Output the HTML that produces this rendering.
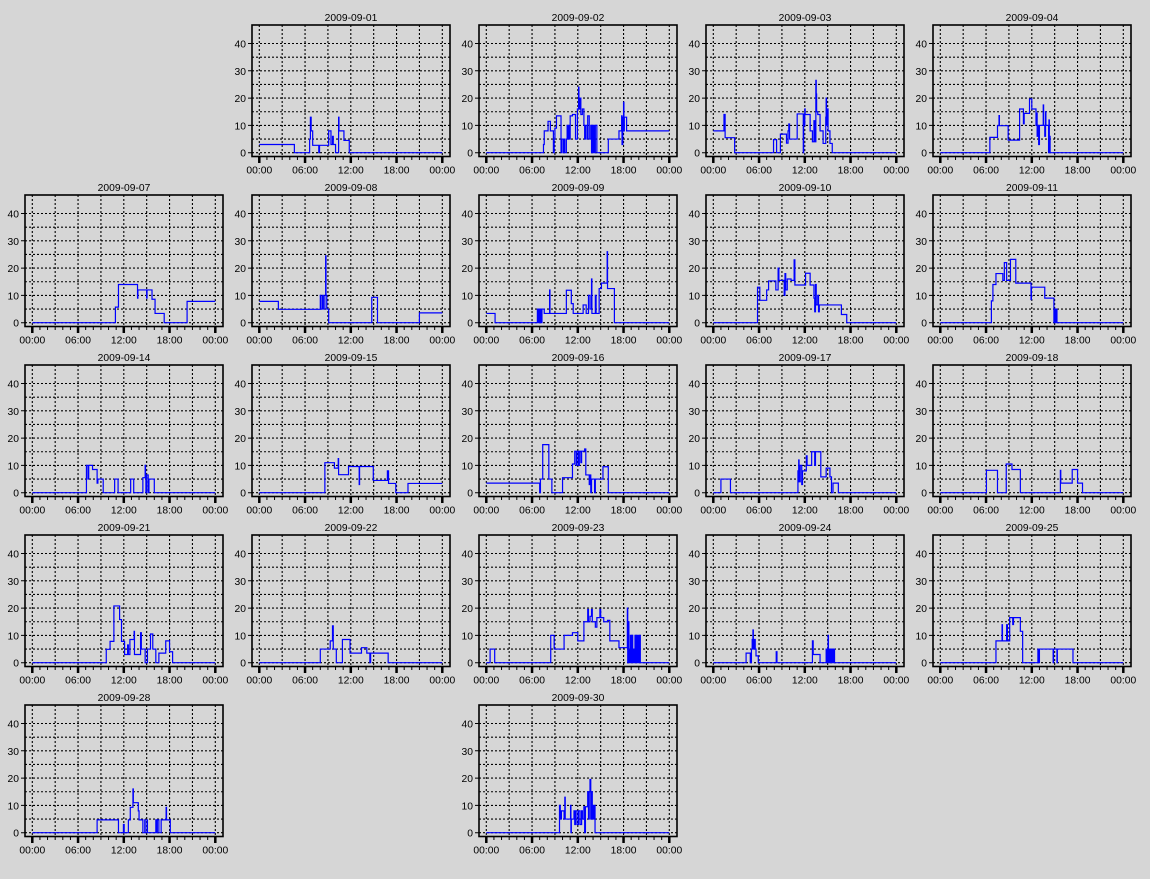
<!DOCTYPE html>
<html><head><meta charset="utf-8"><style>
html,body{margin:0;padding:0;background:#d6d6d6;}
svg{display:block;}
text{font-family:"Liberation Sans",Arial,sans-serif;font-size:10.3px;fill:#000;}
.m{text-anchor:middle;}
.e{text-anchor:end;}
.d{fill:none;stroke:#0000ff;stroke-width:1.2;}
</style></head><body>
<svg width="1150" height="879" viewBox="0 0 1150 879" xmlns="http://www.w3.org/2000/svg">
<rect width="1150" height="879" fill="#d6d6d6"/>
<defs>
<g id="fr">
<path d="M0 127.7H198M0 114.05H198M0 100.4H198M0 86.75H198M0 73.1H198M0 59.45H198M0 45.8H198M0 32.15H198M0 18.5H198M7.3 0V131.5M30.18 0V131.5M53.05 0V131.5M75.93 0V131.5M98.8 0V131.5M121.68 0V131.5M144.55 0V131.5M167.43 0V131.5M190.3 0V131.5" stroke="#000" stroke-width="1.1" stroke-dasharray="2,2" fill="none"/>
<rect x="0" y="0" width="198" height="131.5" fill="none" stroke="#000" stroke-width="1.6"/>
<path d="M-4 127.7H0M-4 100.4H0M-4 73.1H0M-4 45.8H0M-4 18.5H0M7.3 131.5V135M14.93 131.5V135M22.55 131.5V135M30.18 131.5V135M37.8 131.5V135M45.43 131.5V135M53.05 131.5V135M60.68 131.5V135M68.3 131.5V135M75.93 131.5V135M83.55 131.5V135M91.18 131.5V135M98.8 131.5V135M106.43 131.5V135M114.05 131.5V135M121.68 131.5V135M129.3 131.5V135M136.93 131.5V135M144.55 131.5V135M152.18 131.5V135M159.8 131.5V135M167.43 131.5V135M175.05 131.5V135M182.68 131.5V135M190.3 131.5V135" stroke="#000" stroke-width="1" fill="none"/>
<path d="M7.3 131.5V138M53.05 131.5V138M98.8 131.5V138M144.55 131.5V138M190.3 131.5V138" stroke="#000" stroke-width="2.5" fill="none"/>
</g>
</defs>

<!-- Row 0 -->
<g transform="translate(252,25)"><use href="#fr"/><text x="99" y="-4" class="m">2009-09-01</text><text x="-6" y="131.7" class="e">0</text><text x="-6" y="104.4" class="e">10</text><text x="-6" y="77.1" class="e">20</text><text x="-6" y="49.8" class="e">30</text><text x="-6" y="22.5" class="e">40</text><text x="7.3" y="148.3" class="m">00:00</text><text x="53.05" y="148.3" class="m">06:00</text><text x="98.8" y="148.3" class="m">12:00</text><text x="144.55" y="148.3" class="m">18:00</text><text x="190.3" y="148.3" class="m">00:00</text>
<path class="d" vector-effect="non-scaling-stroke" transform="translate(7.3,127.7) scale(7.625,-2.73)" d="M0 3H4.6V0H6.6V5H6.7V13H6.8V8H7.0V2.7H7.8V0H7.9V2.7H9.1V8H9.4V3H9.6V6H9.7V3H10.0V0H10.4V13H10.45V8H11.1V4.5H11.8V0H24"/></g>

<g transform="translate(479,25)"><use href="#fr"/><text x="99" y="-4" class="m">2009-09-02</text><text x="-6" y="131.7" class="e">0</text><text x="-6" y="104.4" class="e">10</text><text x="-6" y="77.1" class="e">20</text><text x="-6" y="49.8" class="e">30</text><text x="-6" y="22.5" class="e">40</text><text x="7.3" y="148.3" class="m">00:00</text><text x="53.05" y="148.3" class="m">06:00</text><text x="98.8" y="148.3" class="m">12:00</text><text x="144.55" y="148.3" class="m">18:00</text><text x="190.3" y="148.3" class="m">00:00</text>
<path class="d" vector-effect="non-scaling-stroke" transform="translate(7.3,127.7) scale(7.625,-2.73)" d="M0 0H7.5V3H7.6V8H8.1V11.5H8.4V8H8.8V0H8.9V5H9.0V9H9.2V13.5H9.8V0H9.9V5H10.1V0H10.2V5H10.3V0H10.5V5H10.6V10H10.7V5H10.85V10H10.95V5H11.0V13.5H11.3V14H11.7V5H11.95V16H12.1V24H12.15V16H12.3V20H12.4V14H12.6V16H12.8V10H12.9V5H13.0V10H13.2V5H13.3V13.5H13.5V5H13.7V10H13.8V0H13.9V10H14.0V0H14.1V10H14.2V0H14.3V10H14.5V0H16.0V5H17.4V8H17.75V13.5H17.8V3H17.9V13H18.0V18.5H18.05V8H18.1V13H18.4V8H24"/></g>

<g transform="translate(706,25)"><use href="#fr"/><text x="99" y="-4" class="m">2009-09-03</text><text x="-6" y="131.7" class="e">0</text><text x="-6" y="104.4" class="e">10</text><text x="-6" y="77.1" class="e">20</text><text x="-6" y="49.8" class="e">30</text><text x="-6" y="22.5" class="e">40</text><text x="7.3" y="148.3" class="m">00:00</text><text x="53.05" y="148.3" class="m">06:00</text><text x="98.8" y="148.3" class="m">12:00</text><text x="144.55" y="148.3" class="m">18:00</text><text x="190.3" y="148.3" class="m">00:00</text>
<path class="d" vector-effect="non-scaling-stroke" transform="translate(7.3,127.7) scale(7.625,-2.73)" d="M0 8H1.4V14H1.55V5.5H2.8V0H7.9V4.8H8.3V0H8.8V6.8H9.6V3.5H9.8V8H9.9V10.5H10.0V5H11.0V14.2H11.8V0H11.85V14H11.9V10H12.0V16H12.05V14H12.7V8H13.0V4H13.2V11.7H13.3V4H13.45V26.5H13.5V21.5H13.55V15H13.7V14H14.0V8H14.4V3.4H14.75V13H14.8V20H14.85V10H14.95V16H15.05V8H15.3V3.4H15.6V0H24"/></g>

<g transform="translate(933,25)"><use href="#fr"/><text x="99" y="-4" class="m">2009-09-04</text><text x="-6" y="131.7" class="e">0</text><text x="-6" y="104.4" class="e">10</text><text x="-6" y="77.1" class="e">20</text><text x="-6" y="49.8" class="e">30</text><text x="-6" y="22.5" class="e">40</text><text x="7.3" y="148.3" class="m">00:00</text><text x="53.05" y="148.3" class="m">06:00</text><text x="98.8" y="148.3" class="m">12:00</text><text x="144.55" y="148.3" class="m">18:00</text><text x="190.3" y="148.3" class="m">00:00</text>
<path class="d" vector-effect="non-scaling-stroke" transform="translate(7.3,127.7) scale(7.625,-2.73)" d="M0 0H6.5V5.6H7.5V9.9H7.7V13.6H7.75V9.9H8.9V4.6H10.4V16H10.9V10.6H11.0V14.4H11.7V19.7H12.0V16H12.55V10H12.65V14.5H12.7V6H12.8V10H12.9V3H13.0V10H13.5V17.5H13.55V10H13.7V6H13.8V15H13.85V10H14.2V0H14.25V12H14.3V0H14.35V6H14.4V0H24"/></g>

<!-- Row 1 -->
<g transform="translate(25,195)"><use href="#fr"/><text x="99" y="-4" class="m">2009-09-07</text><text x="-6" y="131.7" class="e">0</text><text x="-6" y="104.4" class="e">10</text><text x="-6" y="77.1" class="e">20</text><text x="-6" y="49.8" class="e">30</text><text x="-6" y="22.5" class="e">40</text><text x="7.3" y="148.3" class="m">00:00</text><text x="53.05" y="148.3" class="m">06:00</text><text x="98.8" y="148.3" class="m">12:00</text><text x="144.55" y="148.3" class="m">18:00</text><text x="190.3" y="148.3" class="m">00:00</text>
<path class="d" vector-effect="non-scaling-stroke" transform="translate(7.3,127.7) scale(7.625,-2.73)" d="M0 0H10.9V5.7H11.3V14H13.8V9H13.85V12H15.0V9H15.05V12H15.7V8.6H16.1V3.4H17.3V0H20.3V7.8H24"/></g>

<g transform="translate(252,195)"><use href="#fr"/><text x="99" y="-4" class="m">2009-09-08</text><text x="-6" y="131.7" class="e">0</text><text x="-6" y="104.4" class="e">10</text><text x="-6" y="77.1" class="e">20</text><text x="-6" y="49.8" class="e">30</text><text x="-6" y="22.5" class="e">40</text><text x="7.3" y="148.3" class="m">00:00</text><text x="53.05" y="148.3" class="m">06:00</text><text x="98.8" y="148.3" class="m">12:00</text><text x="144.55" y="148.3" class="m">18:00</text><text x="190.3" y="148.3" class="m">00:00</text>
<path class="d" vector-effect="non-scaling-stroke" transform="translate(7.3,127.7) scale(7.625,-2.73)" d="M0 7.8H2.5V4.9H8.0V10H8.1V5H8.3V10H8.4V5H8.6V10H8.7V24.5H8.75V10H8.85V5H9.1V0H14.75V9.3H15.5V0H21.0V3.6H24"/></g>

<g transform="translate(479,195)"><use href="#fr"/><text x="99" y="-4" class="m">2009-09-09</text><text x="-6" y="131.7" class="e">0</text><text x="-6" y="104.4" class="e">10</text><text x="-6" y="77.1" class="e">20</text><text x="-6" y="49.8" class="e">30</text><text x="-6" y="22.5" class="e">40</text><text x="7.3" y="148.3" class="m">00:00</text><text x="53.05" y="148.3" class="m">06:00</text><text x="98.8" y="148.3" class="m">12:00</text><text x="144.55" y="148.3" class="m">18:00</text><text x="190.3" y="148.3" class="m">00:00</text>
<path class="d" vector-effect="non-scaling-stroke" transform="translate(7.3,127.7) scale(7.625,-2.73)" d="M0 3.4H1.15V0H6.7V5H6.8V0H6.9V5H7.0V0H7.1V5H7.2V0H7.3V5H7.6V3.4H8.3V12H8.35V3.4H10.5V11.9H11.15V7H11.4V3.4H12.7V6.5H13.1V3.4H13.4V10H13.6V5H13.8V16H13.85V3.4H14.3V10H14.4V3.4H14.8V12.5H15.1V14.5H15.85V26H15.9V12.5H16.8V0H24"/></g>

<g transform="translate(706,195)"><use href="#fr"/><text x="99" y="-4" class="m">2009-09-10</text><text x="-6" y="131.7" class="e">0</text><text x="-6" y="104.4" class="e">10</text><text x="-6" y="77.1" class="e">20</text><text x="-6" y="49.8" class="e">30</text><text x="-6" y="22.5" class="e">40</text><text x="7.3" y="148.3" class="m">00:00</text><text x="53.05" y="148.3" class="m">06:00</text><text x="98.8" y="148.3" class="m">12:00</text><text x="144.55" y="148.3" class="m">18:00</text><text x="190.3" y="148.3" class="m">00:00</text>
<path class="d" vector-effect="non-scaling-stroke" transform="translate(7.3,127.7) scale(7.625,-2.73)" d="M0 0H5.8V13H6.1V8.2H7.0V12H7.25V15.3H8.2V12H8.5V20H8.6V15.5H9.3V10H9.4V18H9.5V12H9.7V16H10.2V15.5H10.6V23H10.7V13.8H12.1V18.1H12.7V13.8H13.2V9H13.3V4H13.4V14H13.5V6.5H13.7V10H13.8V4H13.9V6.5H16.8V3H17.5V0H24"/></g>

<g transform="translate(933,195)"><use href="#fr"/><text x="99" y="-4" class="m">2009-09-11</text><text x="-6" y="131.7" class="e">0</text><text x="-6" y="104.4" class="e">10</text><text x="-6" y="77.1" class="e">20</text><text x="-6" y="49.8" class="e">30</text><text x="-6" y="22.5" class="e">40</text><text x="7.3" y="148.3" class="m">00:00</text><text x="53.05" y="148.3" class="m">06:00</text><text x="98.8" y="148.3" class="m">12:00</text><text x="144.55" y="148.3" class="m">18:00</text><text x="190.3" y="148.3" class="m">00:00</text>
<path class="d" vector-effect="non-scaling-stroke" transform="translate(7.3,127.7) scale(7.625,-2.73)" d="M0 0H6.7V8H6.9V14H7.3V18H8.2V15.5H8.4V22H8.7V15.5H9.2V23.2H9.9V14.5H11.9V8.5H11.95V13H13.7V9H14.9V0H15.0V5H15.1V0H15.2V5H15.3V0H24"/></g>

<!-- Row 2 -->
<g transform="translate(25,365)"><use href="#fr"/><text x="99" y="-4" class="m">2009-09-14</text><text x="-6" y="131.7" class="e">0</text><text x="-6" y="104.4" class="e">10</text><text x="-6" y="77.1" class="e">20</text><text x="-6" y="49.8" class="e">30</text><text x="-6" y="22.5" class="e">40</text><text x="7.3" y="148.3" class="m">00:00</text><text x="53.05" y="148.3" class="m">06:00</text><text x="98.8" y="148.3" class="m">12:00</text><text x="144.55" y="148.3" class="m">18:00</text><text x="190.3" y="148.3" class="m">00:00</text>
<path class="d" vector-effect="non-scaling-stroke" transform="translate(7.3,127.7) scale(7.625,-2.73)" d="M0 0H7.1V10H7.3V5H7.4V10H7.9V8.5H8.5V3.5H8.6V5H9.3V0H10.8V5H11.25V0H12.9V5H13.3V0H14.5V5.5H14.8V10H14.85V6.5H14.9V0H15.0V6.5H15.2V0H15.3V5H16.0V0H24"/></g>

<g transform="translate(252,365)"><use href="#fr"/><text x="99" y="-4" class="m">2009-09-15</text><text x="-6" y="131.7" class="e">0</text><text x="-6" y="104.4" class="e">10</text><text x="-6" y="77.1" class="e">20</text><text x="-6" y="49.8" class="e">30</text><text x="-6" y="22.5" class="e">40</text><text x="7.3" y="148.3" class="m">00:00</text><text x="53.05" y="148.3" class="m">06:00</text><text x="98.8" y="148.3" class="m">12:00</text><text x="144.55" y="148.3" class="m">18:00</text><text x="190.3" y="148.3" class="m">00:00</text>
<path class="d" vector-effect="non-scaling-stroke" transform="translate(7.3,127.7) scale(7.625,-2.73)" d="M0 0H8.6V11H9.85V9H10.35V12.5H10.4V6.6H11.7V9.6H13.1V3H13.15V9.6H14.95V4.5H16.8V8H16.95V3.4H17.9V0H19.5V3.4H24"/></g>

<g transform="translate(479,365)"><use href="#fr"/><text x="99" y="-4" class="m">2009-09-16</text><text x="-6" y="131.7" class="e">0</text><text x="-6" y="104.4" class="e">10</text><text x="-6" y="77.1" class="e">20</text><text x="-6" y="49.8" class="e">30</text><text x="-6" y="22.5" class="e">40</text><text x="7.3" y="148.3" class="m">00:00</text><text x="53.05" y="148.3" class="m">06:00</text><text x="98.8" y="148.3" class="m">12:00</text><text x="144.55" y="148.3" class="m">18:00</text><text x="190.3" y="148.3" class="m">00:00</text>
<path class="d" vector-effect="non-scaling-stroke" transform="translate(7.3,127.7) scale(7.625,-2.73)" d="M0 3.5H7.0V0H7.1V5H7.4V17.6H8.2V5H8.6V0H10.0V5.5H11.3V10.5H11.6V15.2H11.8V10H11.9V15.2H12.1V10H12.2V15.2H12.4V11H12.5V15.2H12.9V16H13.05V6.5H13.5V3H13.6V6.5H13.7V0H13.8V5H14.2V0H14.3V5H15.3V9.5H16.0V0H24"/></g>

<g transform="translate(706,365)"><use href="#fr"/><text x="99" y="-4" class="m">2009-09-17</text><text x="-6" y="131.7" class="e">0</text><text x="-6" y="104.4" class="e">10</text><text x="-6" y="77.1" class="e">20</text><text x="-6" y="49.8" class="e">30</text><text x="-6" y="22.5" class="e">40</text><text x="7.3" y="148.3" class="m">00:00</text><text x="53.05" y="148.3" class="m">06:00</text><text x="98.8" y="148.3" class="m">12:00</text><text x="144.55" y="148.3" class="m">18:00</text><text x="190.3" y="148.3" class="m">00:00</text>
<path class="d" vector-effect="non-scaling-stroke" transform="translate(7.3,127.7) scale(7.625,-2.73)" d="M0 0H1.0V5H2.25V0H11.1V8H11.2V12H11.25V4H11.4V10H11.6V3H11.7V8H12.2V13.5H12.3V10H12.9V15H13.3V10H13.4V15H14.1V5.8H14.8V9H15.3V5.8H15.5V0H15.7V3.5H16.4V0H24"/></g>

<g transform="translate(933,365)"><use href="#fr"/><text x="99" y="-4" class="m">2009-09-18</text><text x="-6" y="131.7" class="e">0</text><text x="-6" y="104.4" class="e">10</text><text x="-6" y="77.1" class="e">20</text><text x="-6" y="49.8" class="e">30</text><text x="-6" y="22.5" class="e">40</text><text x="7.3" y="148.3" class="m">00:00</text><text x="53.05" y="148.3" class="m">06:00</text><text x="98.8" y="148.3" class="m">12:00</text><text x="144.55" y="148.3" class="m">18:00</text><text x="190.3" y="148.3" class="m">00:00</text>
<path class="d" vector-effect="non-scaling-stroke" transform="translate(7.3,127.7) scale(7.625,-2.73)" d="M0 0H6.05V8.2H7.5V0H8.65V10.5H9.4V8.5H10.5V0H15.75V8.2H15.8V3.5H17.3V8.5H18.0V3.5H18.65V0H24"/></g>

<!-- Row 3 -->
<g transform="translate(25,535)"><use href="#fr"/><text x="99" y="-4" class="m">2009-09-21</text><text x="-6" y="131.7" class="e">0</text><text x="-6" y="104.4" class="e">10</text><text x="-6" y="77.1" class="e">20</text><text x="-6" y="49.8" class="e">30</text><text x="-6" y="22.5" class="e">40</text><text x="7.3" y="148.3" class="m">00:00</text><text x="53.05" y="148.3" class="m">06:00</text><text x="98.8" y="148.3" class="m">12:00</text><text x="144.55" y="148.3" class="m">18:00</text><text x="190.3" y="148.3" class="m">00:00</text>
<path class="d" vector-effect="non-scaling-stroke" transform="translate(7.3,127.7) scale(7.625,-2.73)" d="M0 0H9.7V4.9H10.2V7.8H10.7V20.8H11.45V15.8H11.7V7.8H12.1V3H12.5V6.5H12.6V3H12.8V8.5H13.35V11.5H13.4V3H14.2V11H14.3V5H14.8V0H15.1V5H15.5V10.5H15.8V5H16.2V0H16.6V3.5H17.5V8H18.0V4H18.4V0H24"/></g>

<g transform="translate(252,535)"><use href="#fr"/><text x="99" y="-4" class="m">2009-09-22</text><text x="-6" y="131.7" class="e">0</text><text x="-6" y="104.4" class="e">10</text><text x="-6" y="77.1" class="e">20</text><text x="-6" y="49.8" class="e">30</text><text x="-6" y="22.5" class="e">40</text><text x="7.3" y="148.3" class="m">00:00</text><text x="53.05" y="148.3" class="m">06:00</text><text x="98.8" y="148.3" class="m">12:00</text><text x="144.55" y="148.3" class="m">18:00</text><text x="190.3" y="148.3" class="m">00:00</text>
<path class="d" vector-effect="non-scaling-stroke" transform="translate(7.3,127.7) scale(7.625,-2.73)" d="M0 0H8.0V5H9.3V8H9.6V13.5H9.7V5H10.1V0H10.9V8.5H11.9V3.5H13.4V5.5H14.1V3.5H14.5V0H14.6V3.5H16.9V0H24"/></g>

<g transform="translate(479,535)"><use href="#fr"/><text x="99" y="-4" class="m">2009-09-23</text><text x="-6" y="131.7" class="e">0</text><text x="-6" y="104.4" class="e">10</text><text x="-6" y="77.1" class="e">20</text><text x="-6" y="49.8" class="e">30</text><text x="-6" y="22.5" class="e">40</text><text x="7.3" y="148.3" class="m">00:00</text><text x="53.05" y="148.3" class="m">06:00</text><text x="98.8" y="148.3" class="m">12:00</text><text x="144.55" y="148.3" class="m">18:00</text><text x="190.3" y="148.3" class="m">00:00</text>
<path class="d" vector-effect="non-scaling-stroke" transform="translate(7.3,127.7) scale(7.625,-2.73)" d="M0 0H0.5V5H1.1V0H8.45V10H8.9V5H10.2V10H11.3V11H12.0V8H12.8V15H13.3V19.5H13.4V15H13.6V17H13.8V19.5H13.9V15H14.3V13H14.5V16.5H14.9V19.5H15.0V16.5H15.4V15H15.9V15.5H16.2V8H17.4V5.5H18.5V20H18.55V0H18.65V15H18.7V5H18.8V0H18.9V10H19.0V0H19.1V10H19.2V0H19.3V5H19.4V0H19.5V10H19.6V0H19.7V10H19.8V0H19.9V10H20.0V0H20.1V10H20.2V0H24"/></g>

<g transform="translate(706,535)"><use href="#fr"/><text x="99" y="-4" class="m">2009-09-24</text><text x="-6" y="131.7" class="e">0</text><text x="-6" y="104.4" class="e">10</text><text x="-6" y="77.1" class="e">20</text><text x="-6" y="49.8" class="e">30</text><text x="-6" y="22.5" class="e">40</text><text x="7.3" y="148.3" class="m">00:00</text><text x="53.05" y="148.3" class="m">06:00</text><text x="98.8" y="148.3" class="m">12:00</text><text x="144.55" y="148.3" class="m">18:00</text><text x="190.3" y="148.3" class="m">00:00</text>
<path class="d" vector-effect="non-scaling-stroke" transform="translate(7.3,127.7) scale(7.625,-2.73)" d="M0 0H4.3V3.5H4.85V0H5.0V5H5.1V8.5H5.2V12H5.25V5H5.35V8.5H5.5V5H5.6V2.5H5.9V0H8.25V4H8.35V0H13.0V8H13.1V3H14.0V0H14.8V5H14.9V0H15.0V5H15.05V10H15.1V0H15.2V5H15.3V0H15.4V5H15.5V0H15.6V5H15.7V0H15.8V5H15.9V0H24"/></g>

<g transform="translate(933,535)"><use href="#fr"/><text x="99" y="-4" class="m">2009-09-25</text><text x="-6" y="131.7" class="e">0</text><text x="-6" y="104.4" class="e">10</text><text x="-6" y="77.1" class="e">20</text><text x="-6" y="49.8" class="e">30</text><text x="-6" y="22.5" class="e">40</text><text x="7.3" y="148.3" class="m">00:00</text><text x="53.05" y="148.3" class="m">06:00</text><text x="98.8" y="148.3" class="m">12:00</text><text x="144.55" y="148.3" class="m">18:00</text><text x="190.3" y="148.3" class="m">00:00</text>
<path class="d" vector-effect="non-scaling-stroke" transform="translate(7.3,127.7) scale(7.625,-2.73)" d="M0 0H7.3V8H8.1V13.9H8.15V8H8.7V13.9H8.8V8H9.1V16.5H9.5V14H9.6V16.5H10.5V11.5H10.8V0H12.8V5H12.9V0H13.0V5H14.8V0H14.85V5H15.3V0H15.35V5H17.4V0H24"/></g>

<!-- Row 4 -->
<g transform="translate(25,705)"><use href="#fr"/><text x="99" y="-4" class="m">2009-09-28</text><text x="-6" y="131.7" class="e">0</text><text x="-6" y="104.4" class="e">10</text><text x="-6" y="77.1" class="e">20</text><text x="-6" y="49.8" class="e">30</text><text x="-6" y="22.5" class="e">40</text><text x="7.3" y="148.3" class="m">00:00</text><text x="53.05" y="148.3" class="m">06:00</text><text x="98.8" y="148.3" class="m">12:00</text><text x="144.55" y="148.3" class="m">18:00</text><text x="190.3" y="148.3" class="m">00:00</text>
<path class="d" vector-effect="non-scaling-stroke" transform="translate(7.3,127.7) scale(7.625,-2.73)" d="M0 0H8.5V4.7H11.3V0H11.95V3H12.05V0H12.6V4.7H12.85V9.3H13.2V16H13.25V11H13.9V8H14.0V4.7H14.5V0H14.75V4.7H14.8V0H15.05V4.7H15.1V0H16.2V4.7H16.25V0H16.4V4.7H16.6V0H16.9V4.7H17.55V9.3H17.6V4.7H18.1V0H24"/></g>

<g transform="translate(479,705)"><use href="#fr"/><text x="99" y="-4" class="m">2009-09-30</text><text x="-6" y="131.7" class="e">0</text><text x="-6" y="104.4" class="e">10</text><text x="-6" y="77.1" class="e">20</text><text x="-6" y="49.8" class="e">30</text><text x="-6" y="22.5" class="e">40</text><text x="7.3" y="148.3" class="m">00:00</text><text x="53.05" y="148.3" class="m">06:00</text><text x="98.8" y="148.3" class="m">12:00</text><text x="144.55" y="148.3" class="m">18:00</text><text x="190.3" y="148.3" class="m">00:00</text>
<path class="d" vector-effect="non-scaling-stroke" transform="translate(7.3,127.7) scale(7.625,-2.73)" d="M0 0H9.6V10H9.7V5H9.85V8H10.2V5H10.3V13H10.35V5H11.05V10H11.1V0H11.15V5H11.5V8H11.6V3H11.7V8H11.9V3H12.1V8H12.3V3H12.5V8H12.6V5H12.8V9.5H12.9V0H13.0V9.5H13.3V15H13.4V5H13.5V15H13.6V19.5H13.7V5H13.8V15H13.9V5H14.0V10H14.1V5H14.2V10H14.26V0H24"/></g>
</svg>
</body></html>
